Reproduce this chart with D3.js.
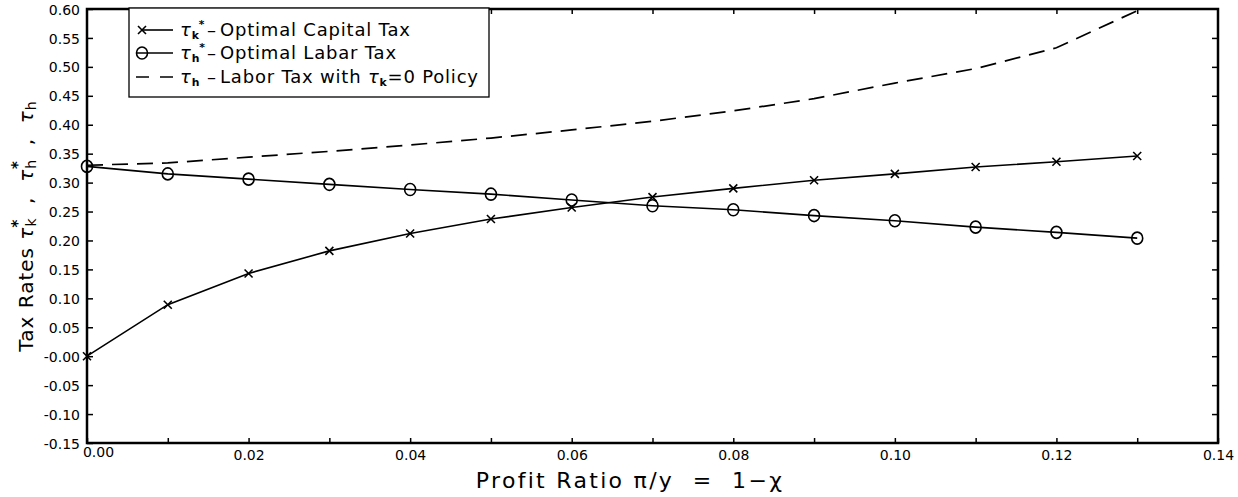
<!DOCTYPE html>
<html>
<head>
<meta charset="utf-8">
<script src="https://cdn.jsdelivr.net/npm/d3@7"></script>
<style>
  html, body { margin: 0; padding: 0; background: #fff; }
  svg { display: block; font-family: "DejaVu Sans", sans-serif; }
</style>
</head>
<body>
<svg id="chart" width="1238" height="497"></svg>
<script>
// ---- data ----
const profitRatio = [0.00, 0.01, 0.02, 0.03, 0.04, 0.05, 0.06, 0.07, 0.08, 0.09, 0.10, 0.11, 0.12, 0.13];
const capitalTax = [0.000, 0.089, 0.143, 0.182, 0.212, 0.237, 0.257, 0.275, 0.290, 0.304, 0.315, 0.327, 0.336, 0.346];
const laborTax   = [0.328, 0.315, 0.306, 0.297, 0.288, 0.280, 0.270, 0.260, 0.253, 0.243, 0.234, 0.223, 0.214, 0.204];
const laborTaxZeroK = [0.330, 0.334, 0.344, 0.354, 0.365, 0.377, 0.391, 0.406, 0.424, 0.445, 0.472, 0.497, 0.533, 0.597];

const xTickValues = [0.00, 0.02, 0.04, 0.06, 0.08, 0.10, 0.12, 0.14];
const xTickLabels = ["0.00", "0.02", "0.04", "0.06", "0.08", "0.10", "0.12", "0.14"];
const xMinorTicks = [0.01, 0.03, 0.05, 0.07, 0.09, 0.11, 0.13];
const yTickValues = [0.60, 0.55, 0.50, 0.45, 0.40, 0.35, 0.30, 0.25, 0.20, 0.15, 0.10, 0.05, 0.00, -0.05, -0.10, -0.15];
const yTickLabels = ["0.60", "0.55", "0.50", "0.45", "0.40", "0.35", "0.30", "0.25", "0.20", "0.15", "0.10", "0.05", "-0.00", "-0.05", "-0.10", "-0.15"];

// ---- layout ----
const svg = d3.select("#chart");
const L = 87, R = 1218, T = 9, B = 443;
const x = d3.scaleLinear().domain([0, 0.14]).range([L, R]);
const y = d3.scaleLinear().domain([-0.15, 0.60]).range([B, T]);

// axes (ticks inward)
const yLeft = svg.append("g").attr("transform", `translate(${L},0)`)
  .call(d3.axisLeft(y).tickValues(yTickValues).tickSize(-6).tickPadding(7)
    .tickFormat((d, i) => yTickLabels[i]));
const yRight = svg.append("g").attr("transform", `translate(${R},0)`)
  .call(d3.axisRight(y).tickValues(yTickValues.slice(1, -1)).tickSize(-6).tickFormat(""));
const xBottom = svg.append("g").attr("transform", `translate(0,${B})`)
  .call(d3.axisBottom(x).tickValues(xTickValues.concat(xMinorTicks)).tickSize(-5).tickPadding(9)
    .tickFormat((d) => { const i = xTickValues.indexOf(d); return i >= 0 ? xTickLabels[i] : ""; }));
const xTop = svg.append("g").attr("transform", `translate(0,${T})`)
  .call(d3.axisTop(x).tickValues(xTickValues.slice(1, -1).concat(xMinorTicks)).tickSize(-5).tickFormat(""));

[yLeft, yRight, xBottom, xTop].forEach(g => {
  g.select(".domain").remove();
  g.selectAll("line").attr("stroke", "#000").attr("stroke-width", 1.5);
  g.selectAll("text").attr("fill", "#000").attr("font-size", 14)
    .attr("font-family", "DejaVu Sans, sans-serif");
});
yLeft.selectAll("text").attr("dy", "0.65em").attr("transform", "translate(0,-4)");
xBottom.selectAll("text").attr("dy", "0.6em");
xBottom.selectAll(".tick").filter(d => d === 0).select("text").attr("transform", "translate(11,-3)");

// frame
svg.append("rect").attr("x", L).attr("y", T).attr("width", R - L).attr("height", B - T)
  .attr("fill", "none").attr("stroke", "#000").attr("stroke-width", 2.5);

// lines
const lineGen = vals => d3.line().x((d, i) => x(profitRatio[i])).y(d => y(d))(vals);

svg.append("path").attr("d", lineGen(laborTaxZeroK)).attr("fill", "none")
  .attr("stroke", "#000").attr("stroke-width", 1.7).attr("stroke-dasharray", "16,9");
svg.append("path").attr("d", lineGen(capitalTax)).attr("fill", "none")
  .attr("stroke", "#000").attr("stroke-width", 1.6);
svg.append("path").attr("d", lineGen(laborTax)).attr("fill", "none")
  .attr("stroke", "#000").attr("stroke-width", 1.6);

// markers
const s = 4;
svg.append("g").selectAll("path").data(capitalTax).join("path")
  .attr("d", (d, i) => {
    const cx = x(profitRatio[i]), cy = y(d);
    return `M${cx - s},${cy - s}L${cx + s},${cy + s}M${cx - s},${cy + s}L${cx + s},${cy - s}`;
  })
  .attr("stroke", "#000").attr("stroke-width", 1.6).attr("fill", "none");
svg.append("g").selectAll("ellipse").data(laborTax).join("ellipse")
  .attr("cx", (d, i) => x(profitRatio[i])).attr("cy", d => y(d)).attr("rx", 5.5).attr("ry", 6)
  .attr("fill", "none").attr("stroke", "#000").attr("stroke-width", 1.6);

// legend
const lg = svg.append("g");
lg.append("rect").attr("x", 129).attr("y", 8).attr("width", 360).attr("height", 89)
  .attr("fill", "#fff").attr("stroke", "#000").attr("stroke-width", 1.3);
const rows = [30, 53, 77];
// row 1
lg.append("path").attr("d", `M${142 - s},${rows[0] - s}L${142 + s},${rows[0] + s}M${142 - s},${rows[0] + s}L${142 + s},${rows[0] - s}`)
  .attr("stroke", "#000").attr("stroke-width", 1.6);
lg.append("line").attr("x1", 142).attr("x2", 173).attr("y1", rows[0]).attr("y2", rows[0]).attr("stroke", "#000").attr("stroke-width", 1.6);
// row 2
lg.append("line").attr("x1", 136).attr("x2", 173).attr("y1", rows[1]).attr("y2", rows[1]).attr("stroke", "#000").attr("stroke-width", 1.6);
lg.append("ellipse").attr("cx", 142).attr("cy", rows[1]).attr("rx", 5.5).attr("ry", 6).attr("fill", "none").attr("stroke", "#000").attr("stroke-width", 1.6);
// row 3
lg.append("line").attr("x1", 136).attr("x2", 173).attr("y1", rows[2]).attr("y2", rows[2]).attr("stroke", "#000")
  .attr("stroke-width", 1.6).attr("stroke-dasharray", "13,11");

const fs = 18;
function tauText(g, xPos, yPos, sub, star, rest) {
  const t = g.append("text").attr("x", xPos).attr("y", yPos + 6).attr("font-size", fs).attr("fill", "#000")
    .attr("letter-spacing", 0.8).attr("xml:space", "preserve");
  t.append("tspan").attr("font-style", "italic").text("τ");
  t.append("tspan").attr("font-size", fs * 0.6).attr("font-weight", "bold").attr("dy", 3).text(sub);
  if (star) t.append("tspan").attr("font-size", fs * 0.6).attr("font-weight", "bold").attr("dx", -1).attr("dy", -11).text("*");
  t.append("tspan").attr("x", 207).attr("dy", star ? 8 : -3).text("–");
  t.append("tspan").attr("x", 220).text(rest);
  return t;
}
tauText(lg, 180, rows[0], "k", true, "Optimal Capital Tax");
tauText(lg, 180, rows[1], "h", true, "Optimal Labar Tax");
const t3 = tauText(lg, 180, rows[2], "h", false, "Labor Tax with ");
t3.append("tspan").attr("font-style", "italic").text("τ");
t3.append("tspan").attr("font-size", fs * 0.6).attr("font-weight", "bold").attr("dy", 3).text("k");
t3.append("tspan").attr("dy", -3).text("=0 Policy");

// axis titles
svg.append("text").attr("x", 630).attr("y", 488).attr("text-anchor", "middle")
  .attr("font-size", 22).attr("fill", "#000").attr("xml:space", "preserve").attr("letter-spacing", 2.3)
  .text("Profit Ratio π/y  =  1−χ");

const yt = svg.append("text").attr("transform", `translate(27,${(T + B) / 2}) rotate(-90)`)
  .attr("text-anchor", "middle").attr("font-size", 20).attr("fill", "#000").attr("dominant-baseline", "middle")
  .attr("letter-spacing", 1).attr("xml:space", "preserve");
yt.append("tspan").text("Tax Rates ");
yt.append("tspan").attr("font-style", "italic").text("τ");
yt.append("tspan").attr("font-size", 14).attr("dy", 5).text("k");
yt.append("tspan").attr("font-size", 15).attr("font-weight", "bold").attr("dx", -10).attr("dy", -14).text("*");
yt.append("tspan").attr("dy", 9).text("  ,  ");
yt.append("tspan").attr("font-style", "italic").text("τ");
yt.append("tspan").attr("font-size", 14).attr("dy", 5).text("h");
yt.append("tspan").attr("font-size", 15).attr("font-weight", "bold").attr("dx", -10).attr("dy", -14).text("*");
yt.append("tspan").attr("dy", 9).text("  ,  ");
yt.append("tspan").attr("font-style", "italic").text("τ");
yt.append("tspan").attr("font-size", 14).attr("dy", 5).text("h");
</script>
</body>
</html>
